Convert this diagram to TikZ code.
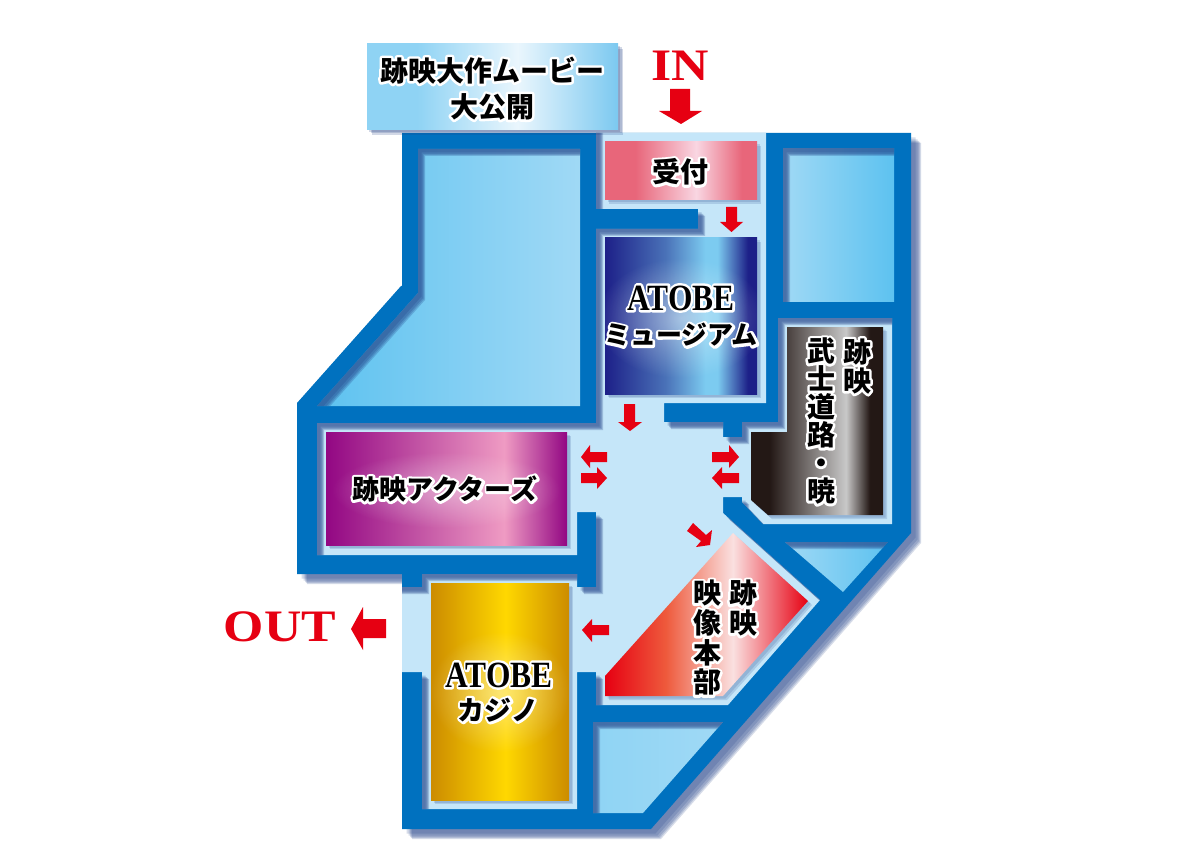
\documentclass[tikz,border=0pt]{standalone}
\usepackage{fontspec}
\usepackage{xcolor}
\setmainfont{Liberation Serif}
\newfontfamily\jpf{Noto Sans CJK JP}[BoldFont={* Black}]
\usetikzlibrary{fadings}
\definecolor{wallblue}{HTML}{0071BF}
\definecolor{floorblue}{HTML}{C5E6F9}
\definecolor{shadeblue}{HTML}{1F3F86}
\definecolor{arrowred}{HTML}{E60012}
\definecolor{skyA}{HTML}{5DC2F0}
\definecolor{skyB}{HTML}{A0D9F5}
\definecolor{skyC}{HTML}{8FD4F4}
\pgfdeclarehorizontalshading{skyLR}{100bp}{color(0bp)=(skyA);color(25bp)=(skyA);color(75bp)=(skyB);color(100bp)=(skyB)}
\pgfdeclarehorizontalshading{skyRL}{100bp}{color(0bp)=(skyB);color(25bp)=(skyB);color(75bp)=(skyA);color(100bp)=(skyA)}
\pgfdeclarehorizontalshading{skyPale}{100bp}{color(0bp)=(skyC);color(25bp)=(skyC);color(75bp)=(skyB);color(100bp)=(skyB)}
\definecolor{bxA}{HTML}{8FD3F4}\definecolor{bxB}{HTML}{EAF6FD}\definecolor{bxC}{HTML}{7CC9F0}
\pgfdeclarehorizontalshading{topbox}{100bp}{color(0bp)=(bxA);color(25bp)=(bxA);color(35bp)=(bxA);color(55bp)=(bxB);color(75bp)=(bxC);color(100bp)=(bxC)}
\definecolor{reA}{HTML}{E8667A}\definecolor{reB}{HTML}{F9D6E2}
\pgfdeclarehorizontalshading{recep}{100bp}{color(0bp)=(reA);color(25bp)=(reA);color(35bp)=(reA);color(55bp)=(reB);color(70bp)=(reA);color(75bp)=(reA);color(100bp)=(reA)}
\definecolor{muA}{HTML}{1D2088}\definecolor{muB}{HTML}{4A72B8}\definecolor{muC}{HTML}{7CCBF0}
\pgfdeclarehorizontalshading{museum}{100bp}{color(0bp)=(muA);color(25bp)=(muA);color(45bp)=(muB);color(58bp)=(muC);color(62bp)=(muC);color(72bp)=(muA);color(75bp)=(muA);color(100bp)=(muA)}
\definecolor{acA}{HTML}{920783}\definecolor{acB}{HTML}{EF9BC3}
\pgfdeclarehorizontalshading{actors}{100bp}{color(0bp)=(acA);color(25bp)=(acA);color(62bp)=(acB);color(75bp)=(acA);color(100bp)=(acA)}
\definecolor{caA}{HTML}{CC8C00}\definecolor{caB}{HTML}{FFD800}
\pgfdeclarehorizontalshading{casino}{100bp}{color(0bp)=(caA);color(25bp)=(caA);color(52bp)=(caB);color(75bp)=(caA);color(100bp)=(caA)}
\definecolor{hoA}{HTML}{E60012}\definecolor{hoB}{HTML}{FAE0E0}\definecolor{hoC}{HTML}{EE5A3C}
\pgfdeclarehorizontalshading{honbu}{100bp}{color(0bp)=(hoA);color(25bp)=(hoA);color(40bp)=(hoC);color(56.5bp)=(hoB);color(75bp)=(hoA);color(100bp)=(hoA)}
\definecolor{buA}{HTML}{231815}\definecolor{buB}{HTML}{C8C8C8}
\pgfdeclarehorizontalshading{bushido}{100bp}{color(0bp)=(buA);color(25bp)=(buA);color(32bp)=(buA);color(61bp)=(buB);color(70bp)=(buA);color(75bp)=(buA);color(100bp)=(buA)}
\tikzfading[name=softglow, inner color=transparent!0, outer color=transparent!100]

\tikzset{
  x=1pt,y=-1pt,
  redarrow/.style={fill=arrowred},
  label/.style={inner sep=0pt,outer sep=0pt,align=center,text=black},
}
% black text with a white outline
\newcommand\hl[1]{\leavevmode\rlap{\textcolor{white}{\special{pdf:code 2 Tr 5 w 1 j}#1\special{pdf:code 0 Tr 0.4 w}}}#1}
\newcommand\jpt[1]{\jpf\bfseries\fontsize{#1}{#1}\selectfont}
\newcommand\vs[1]{\smash{#1}}

\def\outerpath{(402,133) -- (911,133) -- (911,533) -- (651,829) -- (402,829) -- (402,574) -- (297,574) -- (297,403) -- (401,286) -- (402,286) -- cycle}
\def\floorpath{(596,133) -- (766,133) -- (766,403) -- (664,403) -- (664,422) -- (723,422) -- (723,437) -- (742,437) -- (742,422) -- (778,422) -- (778,318) -- (892,318) -- (892,524) -- (763,524) -- (742,502) -- (742,497) -- (723,497) -- (723,513) -- (820,600) -- (728,705) -- (596,705) -- (596,672) -- (577,672) -- (577,809) -- (422,809) -- (422,672) -- (402,672) -- (402,587) -- (422,587) -- (422,574) -- (577,574) -- (577,587) -- (596,587) -- (596,512) -- (577,512) -- (577,555) -- (317,555) -- (317,423) -- (596,423) -- (596,229) -- (698,229) -- (698,209) -- (596,209) -- cycle}
% the same opening, run on past the entrance and the exit: no wall casts a shadow there
\def\floorshade{(596,100) -- (766,100) -- (766,403) -- (664,403) -- (664,422) -- (723,422) -- (723,437) -- (742,437) -- (742,422) -- (778,422) -- (778,318) -- (892,318) -- (892,524) -- (763,524) -- (742,502) -- (742,497) -- (723,497) -- (723,513) -- (820,600) -- (728,705) -- (596,705) -- (596,672) -- (577,672) -- (577,809) -- (422,809) -- (422,672) -- (370,672) -- (370,587) -- (422,587) -- (422,574) -- (577,574) -- (577,587) -- (596,587) -- (596,512) -- (577,512) -- (577,555) -- (317,555) -- (317,423) -- (596,423) -- (596,229) -- (698,229) -- (698,209) -- (596,209) -- cycle}
\def\roomA{(418,149) -- (580,149) -- (580,406) -- (317,406) -- (418,293) -- cycle}
\def\roomB{(783,149) -- (894,149) -- (894,302) -- (783,302) -- cycle}
\def\roomC{(785,542) -- (888,542) -- (843,592) -- cycle}
\def\roomD{(593,722) -- (723,722) -- (643,813) -- (593,813) -- cycle}
\def\rcBox{(367,44) rectangle (618,130)}
\def\rcRecep{(605,142) rectangle (757,200)}
\def\rcMuseum{(605,238) rectangle (757,394)}
\def\rcActors{(326,432) rectangle (567,545)}
\def\rcCasino{(431,583) rectangle (569,800)}
\def\rcHonbu{(733,533) -- (808,601) -- (723,696) -- (605,696) -- (605,676) -- cycle}
\def\rcBushido{(787,327) -- (883,327) -- (883,515) -- (768,515) -- (751,500) -- (751,432) -- (787,432) -- cycle}

% cast shadow of a shape
\newcommand\castshadow[3]{\foreach \d in {#2}{\fill[shadeblue,opacity=#3,xshift=\d,yshift=-\d] #1;}}
% shadow of the walls falling into an opening: #1 the opening, #2 the outline casting it
\newcommand\innershadow[2]{\begin{scope}\clip #1;
  \foreach \d in {7,6,5,3.5}{\fill[shadeblue,opacity=.24,even odd rule,xshift=\d,yshift=-\d] (-200,-200) rectangle (1500,1200) #2;}
\end{scope}}

\begin{document}
\begin{tikzpicture}
\useasboundingbox (0,0) rectangle (1191,842);
\fill[white] (0,0) rectangle (1191,842);

% building
\castshadow{\outerpath}{10,9,8,6.5,4.5}{.18}
\fill[wallblue] \outerpath;
\fill[floorblue] \floorpath;
\innershadow{\floorpath}{\floorshade}
\shade[shading=skyLR] \roomA;  \innershadow{\roomA}{\roomA}
\shade[shading=skyRL] \roomB;  \innershadow{\roomB}{\roomB}
\shade[shading=skyRL] \roomC;  \innershadow{\roomC}{\roomC}
\shade[shading=skyPale] \roomD;  \innershadow{\roomD}{\roomD}

% title box
\castshadow{\rcBox}{5,3.5,2}{.2}
\shade[shading=topbox] \rcBox;

% rooms
\castshadow{\rcRecep}{4,2.5}{.16}
\shade[shading=recep] \rcRecep;
\castshadow{\rcMuseum}{4,2.5}{.16}
\shade[shading=museum] \rcMuseum;
\begin{scope}\clip \rcMuseum; \fill[white,opacity=.45,path fading=softglow] (681,318) ellipse [x radius=85, y radius=60];\end{scope}
\castshadow{\rcActors}{4,2.5}{.16}
\shade[shading=actors] \rcActors;
\begin{scope}\clip \rcActors; \fill[white,opacity=.4,path fading=softglow] (446,490) ellipse [x radius=115, y radius=38];\end{scope}
\castshadow{\rcCasino}{4,2.5}{.16}
\shade[shading=casino] \rcCasino;
\begin{scope}\clip \rcCasino; \fill[white,opacity=.45,path fading=softglow] (500,692) ellipse [x radius=70, y radius=60];\end{scope}
\castshadow{\rcHonbu}{4,2.5}{.16}
\shade[shading=honbu] \rcHonbu;
\castshadow{\rcBushido}{4,2.5}{.16}
\shade[shading=bushido] \rcBushido;

% arrows
\fill[redarrow] (670,89) -- (690,89) -- (690,111) -- (702,111) -- (681,124) -- (659,111) -- (670,111) -- cycle;
\fill[redarrow] (726,207) -- (737,207) -- (737,222) -- (743,222) -- (731.5,232) -- (720,222) -- (726,222) -- cycle;
\fill[redarrow] (624,404) -- (635,404) -- (635,422) -- (642,422) -- (630,431) -- (618,422) -- (624,422) -- cycle;
\fill[redarrow] (581,457) -- (590,445) -- (590,452) -- (607,452) -- (607,462) -- (590,462) -- (590,468) -- cycle;
\fill[redarrow] (607,478) -- (597,467) -- (597,473) -- (581,473) -- (581,483) -- (597,483) -- (597,489) -- cycle;
\fill[redarrow] (739,457) -- (729,445) -- (729,452) -- (712,452) -- (712,462) -- (729,462) -- (729,468) -- cycle;
\fill[redarrow] (712,478) -- (722,467) -- (722,473) -- (739,473) -- (739,483) -- (722,483) -- (722,489) -- cycle;
\fill[redarrow] (687,531) -- (693,523) -- (706,535) -- (712,530) -- (710,545) -- (696,547) -- (701,541) -- cycle;
\fill[redarrow] (582,630) -- (592,619) -- (592,625) -- (609,625) -- (609,635) -- (592,635) -- (592,642) -- cycle;
\fill[redarrow] (351,629) -- (363,607) -- (363,619) -- (386,619) -- (386,638) -- (363,638) -- (363,650) -- cycle;

% texts
\node[label] (title) at (492,92) {\jpt{28}\fontsize{28}{36}\selectfont\hl{\begin{tabular}{@{}c@{}}\vs{跡映大作ムービー}\\\vs{大公開}\end{tabular}}};
\node[text=arrowred,inner sep=0pt] (in) at (680.5,65.5) {\bfseries\fontsize{45}{45}\selectfont\scalebox{1.15}[1]{IN}};
\node[text=arrowred,inner sep=0pt] (out) at (280,627) {\bfseries\fontsize{45}{45}\selectfont\scalebox{1.15}[1]{OUT}};
\node[label] (recep) at (680,172) {\jpt{28}\hl{受付}};
\node[label] (muA) at (681,298) {\bfseries\fontsize{37}{37}\selectfont\hl{\scalebox{.85}[1]{ATOBE}}};
\node[label] (muB) at (681,335) {\jpt{26}\hl{ミュージアム}};
\node[label] (act) at (445,489) {\jpt{27}\hl{跡映アクターズ}};
\node[label] (caA) at (499,675) {\bfseries\fontsize{37}{37}\selectfont\hl{\scalebox{.85}[1]{ATOBE}}};
\node[label] (caB) at (498,710) {\jpt{27}\hl{カジノ}};
\node[label,anchor=north] (buA) at (857,342) {\jpt{28}\fontsize{28}{29}\selectfont\hl{\begin{tabular}{@{}c@{}}\vs{跡}\\\vs{映}\end{tabular}}};
\node[label,anchor=north] (buB) at (821,342) {\jpt{28}\fontsize{28}{28}\selectfont\hl{\begin{tabular}{@{}c@{}}\vs{武}\\\vs{士}\\\vs{道}\\\vs{路}\\\vs{・}\\\vs{暁}\end{tabular}}};
\node[label,anchor=north] (hoA) at (743,583) {\jpt{28}\fontsize{28}{29.7}\selectfont\hl{\begin{tabular}{@{}c@{}}\vs{跡}\\\vs{映}\end{tabular}}};
\node[label,anchor=north] (hoB) at (707,583) {\jpt{28}\fontsize{28}{29.7}\selectfont\hl{\begin{tabular}{@{}c@{}}\vs{映}\\\vs{像}\\\vs{本}\\\vs{部}\end{tabular}}};
\end{tikzpicture}
\end{document}
